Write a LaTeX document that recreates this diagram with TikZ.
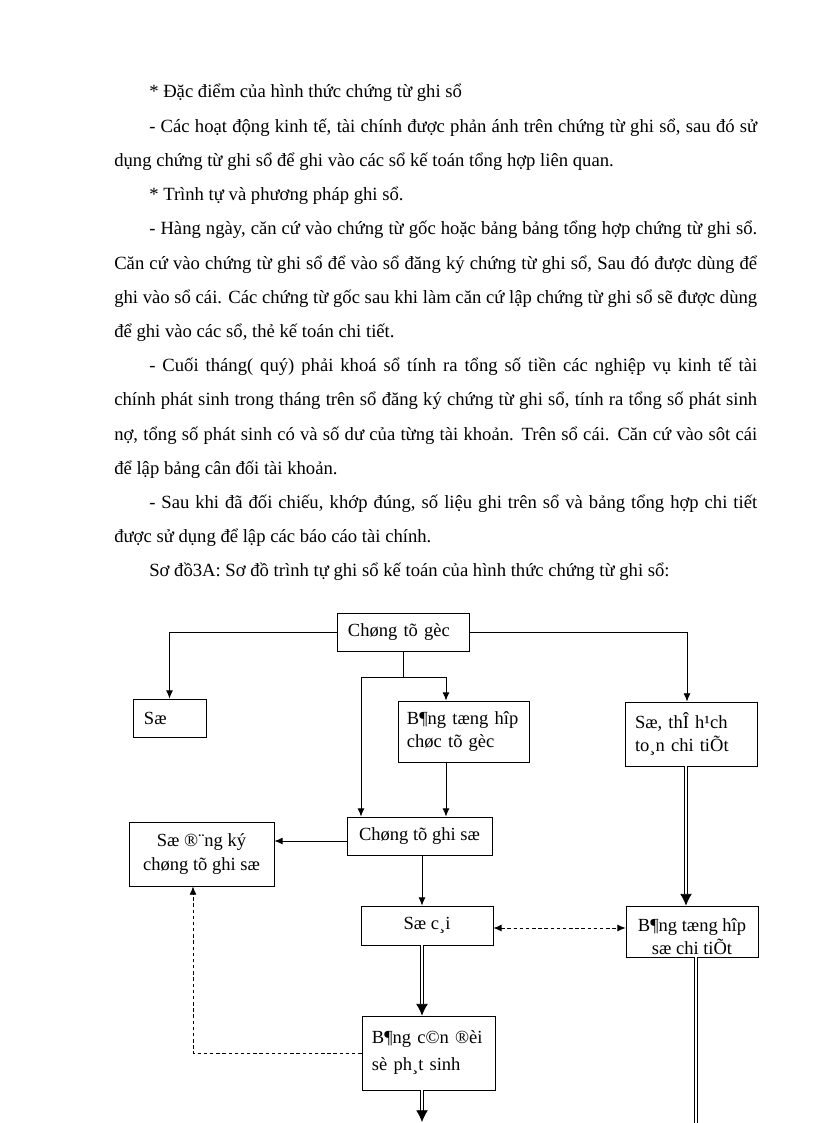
\documentclass[tikz,border=0pt]{standalone}
\usepackage{fontspec}
\setmainfont{Liberation Serif}
\usetikzlibrary{arrows.meta,calc}
\newcommand\parafont{\fontsize{13.6pt}{15pt}\selectfont}
\newcommand\diagfont{\fontsize{13.5pt}{17pt}\selectfont}
\begin{document}
\begin{tikzpicture}[x=0.729pt,y=-0.729pt,
  box/.style={draw, line width=0.6pt, inner sep=0pt, font=\diagfont, align=center},
  lbox/.style={box, align=left, text width=#1},
  ln/.style={line width=0.6pt},
  arr/.style={ln, -{Latex[length=6pt,width=5pt]}},
  dasharr/.style={ln, dash pattern=on 2.5pt off 2pt, -{Latex[length=6pt,width=5pt]}},
  dasharrb/.style={ln, dash pattern=on 2.5pt off 2pt, {Latex[length=6pt,width=5pt]}-{Latex[length=6pt,width=5pt]}},
  dbl/.style={line width=0.5pt, double, double distance=1.5pt},
  dblarr/.style={dbl, -{Latex[length=8.5pt,width=8.5pt]}},
  para/.style={anchor=base west, inner sep=0pt, font=\parafont},
]
\fill[white] (0,0) rectangle (816,1123);
\useasboundingbox (0,0) rectangle (816,1123);

% ---- text ----
\node[para] (t1) at (149,98) {* Đặc điểm của hình thức chứng từ ghi sổ};
\node[para] (t2) at (149,132.2) {\makebox[443.2pt][s]{- Các hoạt động kinh tế, tài chính được phản ánh trên chứng từ ghi sổ, sau đó sử}};
\node[para] (t3) at (114,166.4) {dụng chứng từ ghi sổ để ghi vào các sổ kế toán tổng hợp liên quan.};
\node[para] (t4) at (149,200.6) {* Trình tự và phương pháp ghi sổ.};
\node[para] (t5) at (149,234.8) {\makebox[443.2pt][s]{- Hàng ngày, căn cứ vào chứng từ gốc hoặc bảng bảng tổng hợp chứng từ ghi sổ.}};
\node[para] (t6) at (114,269) {\makebox[468.7pt][s]{Căn cứ vào chứng từ ghi sổ để vào sổ đăng ký chứng từ ghi sổ, Sau đó được dùng để}};
\node[para] (t7) at (114,303.2) {\makebox[468.7pt][s]{ghi vào sổ cái. Các chứng từ gốc sau khi làm căn cứ lập chứng từ ghi sổ sẽ được dùng}};
\node[para] (t8) at (114,337.4) {để ghi vào các sổ, thẻ kế toán chi tiết.};
\node[para] (t9) at (149,371.6) {\makebox[443.2pt][s]{- Cuối tháng( quý) phải khoá sổ tính ra tổng số tiền các nghiệp vụ kinh tế tài}};
\node[para] (t10) at (114,405.8) {\makebox[468.7pt][s]{chính phát sinh trong tháng trên sổ đăng ký chứng từ ghi sổ, tính ra tổng số phát sinh}};
\node[para] (t11) at (114,440) {\makebox[468.7pt][s]{nợ, tổng số phát sinh có và số dư của từng tài khoản. Trên sổ cái. Căn cứ vào sôt cái}};
\node[para] (t12) at (114,474.2) {để lập bảng cân đối tài khoản.};
\node[para] (t13) at (149,508.4) {\makebox[443.2pt][s]{- Sau khi đã đối chiếu, khớp đúng, số liệu ghi trên sổ và bảng tổng hợp chi tiết}};
\node[para] (t14) at (114,542.6) {được sử dụng để lập các báo cáo tài chính.};
\node[para] (t15) at (149,576.8) {Sơ đồ3A: Sơ đồ trình tự ghi sổ kế toán của hình thức chứng từ ghi sổ:};

% ---- boxes ----
\node[lbox=80.2pt, minimum width=96.2pt, minimum height=27.7pt] (A) at (403,632) {\mbox{Chøng tõ gèc}};
\node[lbox=37.2pt, minimum width=53.2pt, minimum height=27.7pt] (B) at (169.5,718) {\mbox{Sæ}};
\node[lbox=82.4pt, minimum width=95.5pt, minimum height=44.5pt] (C) at (463.5,731.5) {\mbox{B¶ng tæng hîp}\\\mbox{chøc tõ gèc}};
\node[lbox=81.6pt, minimum width=96.2pt, minimum height=46.7pt] (D) at (691,734) {\mbox{Sæ, thÎ h¹ch}\\\mbox{to¸n chi tiÕt}};
\node[box, minimum width=105.7pt, minimum height=27.7pt] (E) at (419.5,836) {Chøng tõ ghi sæ};
\node[box, minimum width=105.7pt, minimum height=46.7pt] (F) at (201.5,854) {Sæ ®¨ng ký\\chøng tõ ghi sæ};
\node[box, minimum width=96.2pt, minimum height=28.4pt] (G) at (427,925.5) {Sæ c¸i};
\node[box, minimum width=96.2pt, minimum height=37.2pt] (H) at (692,931.5) {\rule{0pt}{17pt}B¶ng tæng hîp\\sæ chi tiÕt};
\node[lbox=82.4pt, minimum width=97pt, minimum height=53.9pt, font=\fontsize{13.5pt}{19.7pt}\selectfont] (I) at (428.5,1053) {\mbox{B¶ng c©n ®èi}\\\mbox{sè ph¸t sinh}};

% ---- helper coordinates ----
\coordinate (jl) at (361,677);
\coordinate (jr) at (446,677);
\coordinate (cx) at (422,0);
\coordinate (ax) at (687,0);
\coordinate (dx) at (686,0);
\coordinate (hx) at (696,0);
\coordinate (fx) at (193,0);
\coordinate (y841) at (0,841);
\coordinate (y928) at (0,928);
\coordinate (bot) at (422,1122);
\coordinate (botr) at (696,1130);

% ---- connectors ----
\draw[arr] (A.west) -| (B.north);
\draw[arr] (A.east) -| (D.north -| ax);
\draw[ln] (A.south) -- (A.south |- jl);
\draw[ln] (jl) -- (jr);
\draw[arr] (jr) -- (C.north -| jr);
\draw[arr] (jl) -- (E.north -| jl);
\draw[arr] (C.south -| jr) -- (E.north -| jr);
\draw[arr] (E.west |- y841) -- (F.east |- y841);
\draw[arr] (E.south -| cx) -- (G.north -| cx);
\draw[dasharrb] (G.east |- y928) -- (H.west |- y928);
\draw[dblarr] (D.south -| dx) -- (H.north -| dx);
\draw[dblarr] (G.south -| cx) -- (I.north -| cx);
\draw[dasharr] (I.west) -| (F.south -| fx);
\draw[dblarr] (I.south -| cx) -- (bot);
\draw[dbl] (H.south -| hx) -- (botr);
\end{tikzpicture}
\end{document}
